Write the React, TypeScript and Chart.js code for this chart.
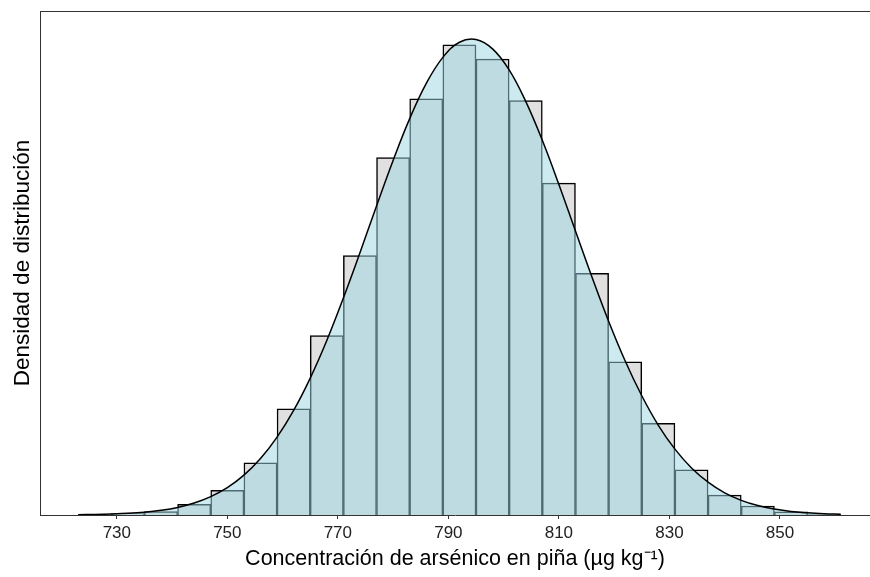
import React, { useEffect, useRef } from "react";
import { Chart, registerables } from "chart.js";

Chart.register(...registerables);

// Histogram bins (centres, bin width 6 µg/kg) and their density
const binCenters = [732, 738, 744, 750, 756, 762, 768, 774, 780, 786, 792, 798, 804, 810, 816, 822, 828, 834, 840, 846, 852, 858];
const binDensity = [0.00007, 0.00016, 0.00049, 0.00113, 0.00238, 0.00485, 0.0082, 0.01186, 0.01634, 0.01902, 0.02149, 0.02084, 0.01894, 0.01517, 0.01105, 0.007, 0.00419, 0.00206, 0.00091, 0.00041, 0.00014, 0.00002];

// Smoothed density curve
const curveX = [723, 726, 729, 732, 735, 738, 741, 744, 747, 750, 753, 756, 759, 762, 765, 768, 771, 774, 777, 780, 783, 786, 789, 792, 795, 798, 801, 804, 807, 810, 813, 816, 819, 822, 825, 828, 831, 834, 837, 840, 843, 846, 849, 852, 855, 858, 861];
const curveDensity = [0.000013, 0.000024, 0.000044, 0.000076, 0.00013, 0.000216, 0.000347, 0.000549, 0.000841, 0.00125, 0.00182, 0.00258, 0.00356, 0.00478, 0.00626, 0.00798, 0.00992, 0.01199, 0.01413, 0.01621, 0.01812, 0.01973, 0.02092, 0.02161, 0.02174, 0.02131, 0.02035, 0.01891, 0.01713, 0.01511, 0.01298, 0.01087, 0.00886, 0.00704, 0.00545, 0.0041, 0.00301, 0.00215, 0.0015, 0.00101, 0.00067, 0.00043, 0.00027, 0.00016, 0.000098, 0.000057, 0.000032];

const xTicks = [730, 750, 770, 790, 810, 830, 850];
const xMin = 716.1;
const xMax = 866.3;
const yMax = 0.02304;

const xTitle = "Concentración de arsénico en piña (µg kg⁻¹)";
const yTitle = "Densidad de distribución";

const FONT = "'Liberation Sans', Arial, Helvetica, sans-serif";

const frameTop = {
  id: "frameTop",
  afterDraw(chart: any) {
    const { ctx, chartArea } = chart;
    ctx.save();
    ctx.strokeStyle = "#333333";
    ctx.lineWidth = 1;
    ctx.beginPath();
    const y = Math.round(chartArea.top) + 0.5;
    ctx.moveTo(chartArea.left, y);
    ctx.lineTo(chartArea.right, y);
    ctx.stroke();
    ctx.restore();
  },
};

export default function App() {
  const ref = useRef<HTMLCanvasElement | null>(null);

  useEffect(() => {
    if (!ref.current) return;
    const chart = new Chart(ref.current, {
      type: "bar",
      data: {
        datasets: [
          {
            type: "line",
            label: "densidad",
            data: curveX.map((x, i) => ({ x, y: curveDensity[i] })),
            borderColor: "#000000",
            borderWidth: 1.5,
            pointRadius: 0,
            tension: 0.4,
            fill: "origin",
            backgroundColor: "rgba(153,213,225,0.5)",
            order: 0,
          } as any,
          {
            type: "bar",
            label: "histograma",
            data: binCenters.map((x, i) => ({ x, y: binDensity[i] })),
            backgroundColor: "#e0e0e0",
            borderColor: "#000000",
            borderWidth: 1.5,
            barPercentage: 1,
            categoryPercentage: 1,
            order: 1,
          } as any,
        ],
      },
      options: {
        animation: false,
        responsive: false,
        maintainAspectRatio: false,
        layout: { padding: { top: 11, left: 0, right: 0, bottom: 0 } },
        plugins: { legend: { display: false }, tooltip: { enabled: false } },
        scales: {
          x: {
            type: "linear",
            position: "bottom",
            min: xMin,
            max: xMax,
            offset: false,
            afterBuildTicks: (s: any) => {
              s.ticks = xTicks.map((v) => ({ value: v }));
            },
            afterFit: (s: any) => {
              s.height = 62;
            },
            ticks: {
              autoSkip: false,
              maxRotation: 0,
              padding: 4,
              color: "#222222",
              font: { family: FONT, size: 17 },
            },
            grid: {
              display: true,
              offset: false,
              drawOnChartArea: false,
              drawTicks: true,
              tickLength: 4,
              tickColor: "#333333",
              tickWidth: 1,
            },
            border: { display: true, color: "#333333", width: 1 },
            title: {
              display: true,
              text: xTitle,
              color: "#000000",
              font: { family: FONT, size: 21.5 },
              padding: { top: 0, bottom: 5 },
            },
          },
          y: {
            type: "linear",
            min: 0,
            max: yMax,
            afterFit: (s: any) => {
              s.width = 40;
            },
            ticks: { display: false },
            grid: { display: false, drawTicks: false },
            border: { display: true, color: "#333333", width: 1 },
            title: {
              display: true,
              text: yTitle,
              color: "#000000",
              font: { family: FONT, size: 22.5 },
              padding: { top: 9, bottom: 0 },
            },
          },
        },
      } as any,
      plugins: [frameTop],
    });
    return () => chart.destroy();
  }, []);

  return (
    <div style={{ position: "fixed", left: 0, top: 0, width: 870, height: 577, background: "#ffffff" }}>
      <canvas ref={ref} width={870} height={577} style={{ display: "block" }} />
    </div>
  );
}
